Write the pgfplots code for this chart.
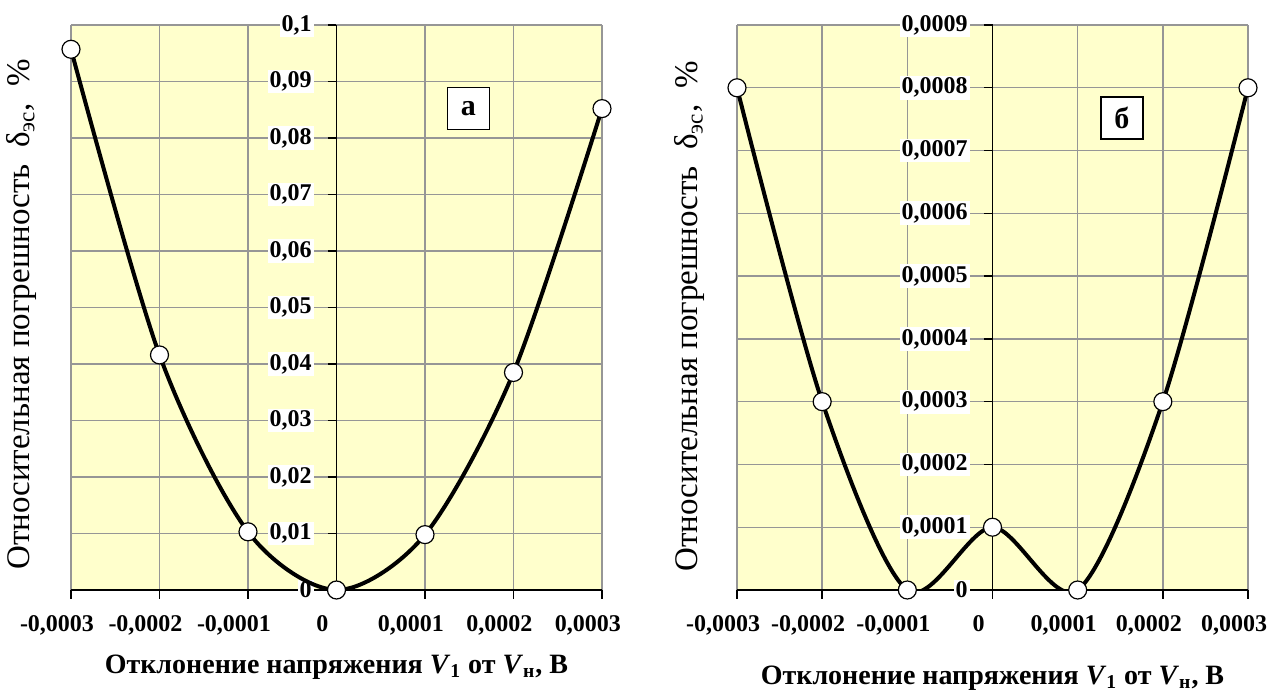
\documentclass[border=0pt]{standalone}
\usepackage{fontspec}
\setmainfont{Liberation Serif}
\usepackage{pgfplots}
\pgfplotsset{compat=1.18}
\definecolor{bgy}{RGB}{255,255,204}
\definecolor{gridg}{RGB}{150,150,150}
\tikzset{boxlab/.style={draw=black, fill=white, line width=0.7pt, minimum width=21pt, minimum height=21pt, inner sep=0pt, font=\fontsize{15}{15}\selectfont\bfseries}}
\pgfplotsset{
 myax/.style={
  scale only axis,
  anchor=south west,
  scaled x ticks=false, scaled y ticks=false,
  axis background/.style={fill=bgy},
  axis x line=bottom, axis y line=middle,
  axis line style={-, black, line width=0.7pt},
  hide obscured x ticks=false, hide obscured y ticks=false,
  xmin=-0.0003, xmax=0.0003,
  xtick={-0.0003,-0.0002,-0.0001,0,0.0001,0.0002,0.0003},
  xticklabels={{-0,0003},{-0,0002},{-0,0001},{0},{0,0001},{0,0002},{0,0003}},
  grid=major,
  major grid style={gridg, line width=0.7pt},
  tick style={black, line width=0.7pt},
  xtick align=outside, ytick align=outside,
  xticklabel style={font=\fontsize{12}{12}\selectfont\bfseries, xshift=-7pt, yshift=-5pt},
  yticklabel style={font=\fontsize{12}{12}\selectfont\bfseries, fill=white, inner sep=1pt, xshift=-7pt},
  every axis x label/.style={at={(axis description cs:0.5,-0.136)}, anchor=center, font=\fontsize{14}{16}\selectfont\bfseries},
  every axis y label/.style={at={(axis description cs:-0.094,0.488)}, rotate=90, anchor=center, font=\fontsize{16.5}{18}\selectfont},
  xlabel={Отклонение напряжения \textit{V}\textsubscript{1} от \textit{V}\textsubscript{н}, В},
  ylabel={Относительная погрешность\ \ δ\textsubscript{эс},\ \ \%},
 },
 crv/.style={black, line width=2pt, smooth, mark=*, mark size=4.5pt, mark options={fill=white, draw=black, line width=0.6pt}},
}
\begin{document}
\begin{tikzpicture}
\begin{axis}[myax, at={(35.5pt,53pt)}, width=265.5pt, height=282.5pt,
  ymin=0, ymax=0.1,
  ytick={0,0.01,0.02,0.03,0.04,0.05,0.06,0.07,0.08,0.09,0.1},
  yticklabels={{0},{0,01},{0,02},{0,03},{0,04},{0,05},{0,06},{0,07},{0,08},{0,09},{0,1}}]
\addplot[crv] coordinates {(-0.0003,0.0957) (-0.0002,0.0416) (-0.0001,0.0103) (0,0) (0.0001,0.0098) (0.0002,0.0385) (0.0003,0.0852)};
\node[boxlab] at (axis cs:0.000149,0.0852) {а};
\end{axis}
\begin{axis}[myax, at={(368.5pt,53pt)}, width=255.5pt, height=282.5pt,
  ymin=0, ymax=0.0009,
  ytick={0,0.0001,0.0002,0.0003,0.0004,0.0005,0.0006,0.0007,0.0008,0.0009},
  yticklabels={{0},{0,0001},{0,0002},{0,0003},{0,0004},{0,0005},{0,0006},{0,0007},{0,0008},{0,0009}},
  every axis y label/.append style={at={(axis description cs:-0.093,0.485)}},
  every axis x label/.append style={at={(axis description cs:0.5,-0.156)}}]
\addplot[crv] coordinates {(-0.0003,0.0008) (-0.0002,0.0003) (-0.0001,0) (0,0.0001) (0.0001,0) (0.0002,0.0003) (0.0003,0.0008)};
\node[boxlab] at (axis cs:0.000152,0.000752) {б};
\end{axis}
\pgfresetboundingbox
\path[use as bounding box] (0,0) rectangle (636pt,348pt);
\end{tikzpicture}
\end{document}
